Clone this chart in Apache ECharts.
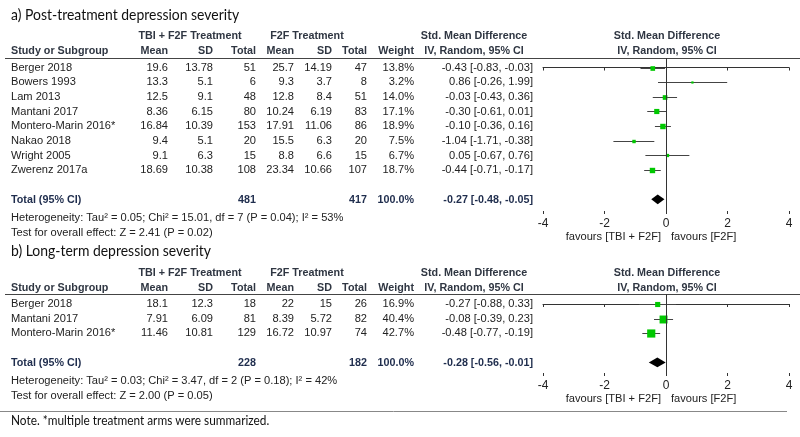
<!DOCTYPE html>
<html><head><meta charset="utf-8">
<script src="https://cdn.jsdelivr.net/npm/echarts@6/dist/echarts.min.js"></script>
<style>html,body{margin:0;padding:0;background:#fff}#c{width:800px;height:437px}</style>
</head><body><div id="c"></div>
<script>
// ---------- data: a) post-treatment ----------
const studiesA = ['Berger 2018','Bowers 1993','Lam 2013','Mantani 2017','Montero-Marin 2016*','Nakao 2018','Wright 2005','Zwerenz 2017a'];
const tbiMeanA = [19.6, 13.3, 12.5, 8.36, 16.84, 9.4, 9.1, 18.69];
const tbiSdA   = [13.78, 5.1, 9.1, 6.15, 10.39, 5.1, 6.3, 10.38];
const tbiNA    = [51, 6, 48, 80, 153, 20, 15, 108];
const f2fMeanA = [25.7, 9.3, 12.8, 10.24, 17.91, 15.5, 8.8, 23.34];
const f2fSdA   = [14.19, 3.7, 8.4, 6.19, 11.06, 6.3, 6.6, 10.66];
const f2fNA    = [47, 8, 51, 83, 86, 20, 15, 107];
const weightA  = [13.8, 3.2, 14.0, 17.1, 18.9, 7.5, 6.7, 18.7];
const smdA     = [-0.43, 0.86, -0.03, -0.30, -0.10, -1.04, 0.05, -0.44];
const loA      = [-0.83, -0.26, -0.43, -0.61, -0.36, -1.71, -0.67, -0.71];
const hiA      = [-0.03, 1.99, 0.36, 0.01, 0.16, -0.38, 0.76, -0.17];
const totalA   = {tbiN: 481, f2fN: 417, weight: 100.0, smd: -0.27, lo: -0.48, hi: -0.05};
const hetA     = 'Heterogeneity: Tau² = 0.05; Chi² = 15.01, df = 7 (P = 0.04); I² = 53%';
const testA    = 'Test for overall effect: Z = 2.41 (P = 0.02)';

// ---------- data: b) long-term ----------
const studiesB = ['Berger 2018','Mantani 2017','Montero-Marin 2016*'];
const tbiMeanB = [18.1, 7.91, 11.46];
const tbiSdB   = [12.3, 6.09, 10.81];
const tbiNB    = [18, 81, 129];
const f2fMeanB = [22, 8.39, 16.72];
const f2fSdB   = [15, 5.72, 10.97];
const f2fNB    = [26, 82, 74];
const weightB  = [16.9, 40.4, 42.7];
const smdB     = [-0.27, -0.08, -0.48];
const loB      = [-0.88, -0.39, -0.77];
const hiB      = [0.33, 0.23, -0.19];
const totalB   = {tbiN: 228, f2fN: 182, weight: 100.0, smd: -0.28, lo: -0.56, hi: -0.01};
const hetB     = 'Heterogeneity: Tau² = 0.03; Chi² = 3.47, df = 2 (P = 0.18); I² = 42%';
const testB    = 'Test for overall effect: Z = 2.00 (P = 0.05)';

const xTicks = [-4, -2, 0, 2, 4];
const favLeft = 'favours [TBI + F2F]';
const favRight = 'favours [F2F]';
const titleA = 'a) Post-treatment depression severity';
const titleB = 'b) Long-term depression severity';
const noteText = 'Note. *multiple treatment arms were summarized.';

// ---------- chart ----------
const GREEN = '#00c800';
const chart = echarts.init(document.getElementById('c'));

function studyData(smd, lo, hi, w){ return smd.map((v,i)=>[v, lo[i], hi[i], w[i], i]); }

function renderStudy(params, api){
  const x = api.value(0), lo = api.value(1), hi = api.value(2), w = api.value(3), row = api.value(4);
  const p = api.coord([x,row]), pl = api.coord([lo,row]), ph = api.coord([hi,row]);
  const s = 1.25*Math.sqrt(w);
  const yy = Math.round(p[1]) + 0.5;
  return {type:'group', children:[
    {type:'line', shape:{x1:pl[0],y1:yy,x2:ph[0],y2:yy}, style:{stroke:'#444', lineWidth:1}},
    {type:'rect', shape:{x:p[0]-s/2,y:yy-s/2,width:s,height:s}, style:{fill:GREEN}}
  ]};
}
function renderDiamond(params, api){
  const x = api.value(0), lo = api.value(1), hi = api.value(2), row = api.value(3);
  const p = api.coord([x,row]), pl = api.coord([lo,row]), ph = api.coord([hi,row]);
  const h = 4.8;
  return {type:'polygon', shape:{points:[[pl[0],p[1]],[p[0],p[1]-h],[ph[0],p[1]],[p[0],p[1]+h]]}, style:{fill:'#000'}};
}

const rowsA = studiesA.length + 1; // total row index
const rowsB = studiesB.length + 1;

function xAxisPair(g){
  return [
    {type:'value', gridIndex:g, min:-4, max:4, interval:2, position:'bottom',
     axisLine:{lineStyle:{color:'#333', width:1}}, axisTick:{length:3, lineStyle:{color:'#333'}},
     axisLabel:{color:'#222', fontSize:12, fontFamily:'Liberation Sans, Arial', margin:4,
       formatter: v => xTicks.includes(v) ? String(v) : ''},
     splitLine:{show:false}},
    {type:'value', gridIndex:g, min:-4, max:4, interval:2, position:'bottom',
     axisLine:{show:false}, axisTick:{inside:true, length:3, lineStyle:{color:'#333'}},
     axisLabel:{show:false}, splitLine:{show:false}}
  ];
}

const zeroLine = {silent:true, symbol:'none', animation:false, label:{show:false},
  lineStyle:{color:'#333', type:'solid', width:1}, data:[{xAxis:0}]};

chart.setOption({
  animation:false,
  grid:[{left:543, top:58, width:246, height:156}, {left:543, top:294, width:246, height:82}],
  xAxis:[...xAxisPair(0), ...xAxisPair(1)],
  yAxis:[
    {type:'value', gridIndex:0, min:-0.65, max:10.0, inverse:true, show:false},
    {type:'value', gridIndex:1, min:-0.685, max:4.93, inverse:true, show:false}
  ],
  series:[
    {type:'custom', xAxisIndex:0, yAxisIndex:0, renderItem:renderStudy, data:studyData(smdA,loA,hiA,weightA),
     encode:{x:[0,1,2], y:4}, markLine:zeroLine, clip:false},
    {type:'custom', xAxisIndex:0, yAxisIndex:0, renderItem:renderDiamond,
     data:[[totalA.smd, totalA.lo, totalA.hi, rowsA]], encode:{x:[0,1,2], y:3}, clip:false},
    {type:'custom', xAxisIndex:2, yAxisIndex:1, renderItem:renderStudy, data:studyData(smdB,loB,hiB,weightB),
     encode:{x:[0,1,2], y:4}, markLine:zeroLine, clip:false},
    {type:'custom', xAxisIndex:2, yAxisIndex:1, renderItem:renderDiamond,
     data:[[totalB.smd, totalB.lo, totalB.hi, rowsB]], encode:{x:[0,1,2], y:3}, clip:false}
  ]
});

// ---------- table text ----------
const FONT = 'Liberation Sans, Arial, sans-serif';
const TXT = '#222';
const HDR = '#2f3642';
const TOT = '#1f2d4d';
const graphics = [];
function t(text, x, y, opts){
  opts = opts || {};
  const sx = opts.sx || (opts.bold ? 0.92 : 0.95);
  graphics.push({type:'text', silent:true, x:x, y:y, scaleX:sx, style:{text:String(text), x:0, y:0,
    font:(opts.bold?'bold ':'') + (opts.size||11.7) + 'px ' + (opts.family||FONT),
    fill:opts.color||TXT, textAlign:opts.align||'left', textVerticalAlign:'middle'}});
}
function hline(x1,x2,y,color){
  graphics.push({type:'line', silent:true, shape:{x1:x1,y1:y+0.5,x2:x2,y2:y+0.5}, style:{stroke:color, lineWidth:1}});
}
const COL = {name:11, tm:168, ts:213, tn:256, fm:294, fs:332, fn:367, w:414, ci:533, ciC:474, plotC:667};
const fmtCI = (v,l,h) => v.toFixed(2) + ' [' + l.toFixed(2) + ', ' + h.toFixed(2) + ']';
const TITLE_FONT = 'Lato, Open Sans, sans-serif';

function section(yAxisIndex, xAxisIndex, title, titleY, hdrY, lineY, S, total, het, test, favY){
  const rowY = i => chart.convertToPixel({yAxisIndex:yAxisIndex}, i);
  const x0 = chart.convertToPixel({xAxisIndex:xAxisIndex}, 0);
  t(title, 11, titleY, {size:15, family:TITLE_FONT, color:'#111', sx:0.93});
  t('TBI + F2F Treatment', 190, hdrY, {bold:true, color:HDR, align:'center'});
  t('F2F Treatment', 307, hdrY, {bold:true, color:HDR, align:'center'});
  t('Std. Mean Difference', COL.ciC, hdrY, {bold:true, color:HDR, align:'center'});
  t('Std. Mean Difference', COL.plotC, hdrY, {bold:true, color:HDR, align:'center'});
  const h2 = hdrY + 15;
  t('Study or Subgroup', COL.name, h2, {bold:true, color:HDR});
  t('Mean', COL.tm, h2, {bold:true, color:HDR, align:'right'});
  t('SD', COL.ts, h2, {bold:true, color:HDR, align:'right'});
  t('Total', COL.tn, h2, {bold:true, color:HDR, align:'right'});
  t('Mean', COL.fm, h2, {bold:true, color:HDR, align:'right'});
  t('SD', COL.fs, h2, {bold:true, color:HDR, align:'right'});
  t('Total', COL.fn, h2, {bold:true, color:HDR, align:'right'});
  t('Weight', COL.w, h2, {bold:true, color:HDR, align:'right'});
  t('IV, Random, 95% CI', COL.ciC, h2, {bold:true, color:HDR, align:'center'});
  t('IV, Random, 95% CI', COL.plotC, h2, {bold:true, color:HDR, align:'center'});
  hline(5, 800, lineY, '#444');
  S.names.forEach((n,i)=>{
    const y = rowY(i);
    t(n, COL.name, y);
    t(S.tm[i], COL.tm, y, {align:'right'});
    t(S.ts[i], COL.ts, y, {align:'right'});
    t(S.tn[i], COL.tn, y, {align:'right'});
    t(S.fm[i], COL.fm, y, {align:'right'});
    t(S.fs[i], COL.fs, y, {align:'right'});
    t(S.fn[i], COL.fn, y, {align:'right'});
    t(S.w[i].toFixed(1) + '%', COL.w, y, {align:'right'});
    t(fmtCI(S.smd[i], S.lo[i], S.hi[i]), COL.ci, y, {align:'right'});
  });
  const ty = rowY(S.names.length + 1);
  t('Total (95% CI)', COL.name, ty, {bold:true, color:TOT});
  t(total.tbiN, COL.tn, ty, {bold:true, color:TOT, align:'right'});
  t(total.f2fN, COL.fn, ty, {bold:true, color:TOT, align:'right'});
  t(total.weight.toFixed(1) + '%', COL.w, ty, {bold:true, color:TOT, align:'right'});
  t(fmtCI(total.smd, total.lo, total.hi), COL.ci, ty, {bold:true, color:TOT, align:'right'});
  t(het, COL.name, ty + 18);
  t(test, COL.name, ty + 33);
  t(favLeft, x0 - 5, favY, {align:'right'});
  t(favRight, x0 + 5, favY, {align:'left'});
}

section(0, 0, titleA, 15, 36, 58,
  {names:studiesA, tm:tbiMeanA, ts:tbiSdA, tn:tbiNA, fm:f2fMeanA, fs:f2fSdA, fn:f2fNA, w:weightA, smd:smdA, lo:loA, hi:hiA},
  totalA, hetA, testA, 237);
section(1, 2, titleB, 251, 273, 294,
  {names:studiesB, tm:tbiMeanB, ts:tbiSdB, tn:tbiNB, fm:f2fMeanB, fs:f2fSdB, fn:f2fNB, w:weightB, smd:smdB, lo:loB, hi:hiB},
  totalB, hetB, testB, 399);
hline(0, 787, 411, '#888');
t(noteText, 11, 421, {size:13, family:TITLE_FONT, color:'#111', sx:0.91});

chart.setOption({graphic:{elements:graphics}});
</script></body></html>
